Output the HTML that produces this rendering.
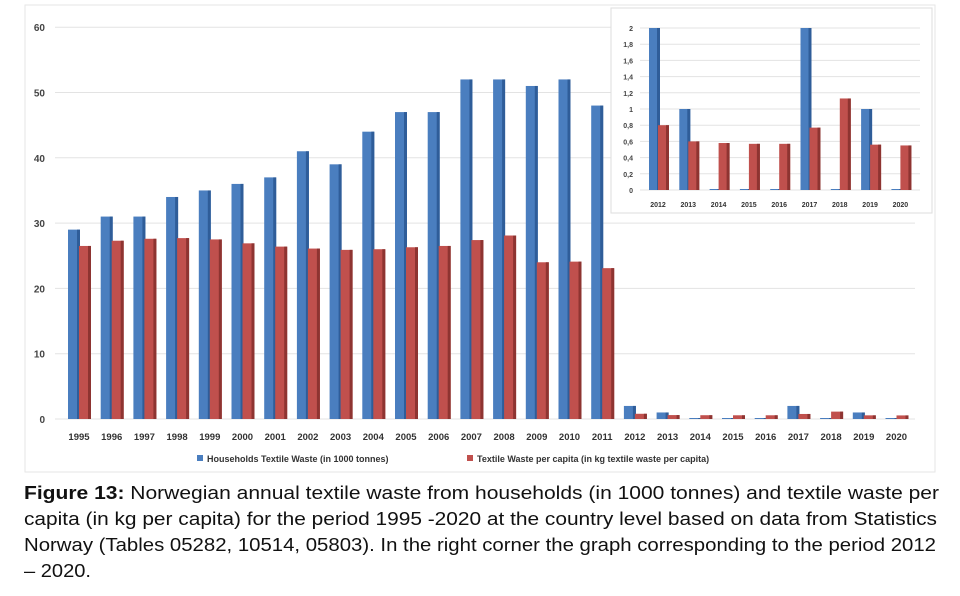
<!DOCTYPE html><html><head><meta charset="utf-8"><style>
body{margin:0;background:#fff;width:960px;height:596px;overflow:hidden;font-family:"Liberation Sans",sans-serif}
</style></head><body>
<svg width="960" height="596" style="position:absolute;left:0;top:0">
<rect x="25" y="5" width="910" height="467" fill="none" stroke="#e6e6e6"/>
<g id="g"></g>
<g font-size="18" fill="#111" font-family="Liberation Sans,sans-serif">
<text x="24" y="499" textLength="915" lengthAdjust="spacingAndGlyphs"><tspan font-weight="bold">Figure 13:</tspan> Norwegian annual textile waste from households (in 1000 tonnes) and textile waste per</text>
<text x="24" y="525" textLength="913" lengthAdjust="spacingAndGlyphs">capita (in kg per capita) for the period 1995 -2020 at the country level based on data from Statistics</text>
<text x="24" y="551" textLength="912" lengthAdjust="spacingAndGlyphs">Norway (Tables 05282, 10514, 05803). In the right corner the graph corresponding to the period 2012</text>
<text x="24" y="577" textLength="67" lengthAdjust="spacingAndGlyphs">– 2020.</text>
</g>
</svg>
<script>
var b=[29,31,31,34,35,36,37,41,39,44,47,47,52,52,51,52,48,2,1,0,0,0,2,0,1,0];
var r=[26.5,27.3,27.6,27.7,27.5,26.9,26.4,26.1,25.9,26,26.3,26.5,27.4,28.1,24,24.1,23.1,0.8,0.6,0.58,0.57,0.57,0.77,1.13,0.56,0.55];
var h='';
function bar(x,y0,hh,w,c,d){if(hh<1)hh=1;return '<rect x="'+x+'" y="'+(y0-hh)+'" width="'+w+'" height="'+hh+'" fill="'+c+'"/><rect x="'+(x+w-3)+'" y="'+(y0-hh)+'" width="3" height="'+hh+'" fill="'+d+'"/>';}
for(var v=0;v<=60;v+=10){var y=419-v*6.53;h+='<line x1="55" x2="915" y1="'+y+'" y2="'+y+'" stroke="#e3e3e3"/><text x="45" y="'+(y+4)+'" font-size="10" fill="#444" text-anchor="end" font-weight="bold">'+v+'</text>';}
for(var i=0;i<26;i++){var cx=79+i*32.7;
h+=bar(cx-11,419,b[i]*6.53,12,'#4a7ebf','#2f5d99');
h+=bar(cx,419,r[i]*6.53,12,'#c0504d','#8e3431');
h+='<text x="'+cx+'" y="440" font-size="9.5" fill="#333" text-anchor="middle" font-weight="bold">'+(1995+i)+'</text>';}
h+='<rect x="197" y="455" width="6" height="6" fill="#4a7ebf"/><text x="207" y="462" font-size="9" fill="#333" font-weight="bold">Households Textile Waste (in 1000 tonnes)</text>';
h+='<rect x="467" y="455" width="6" height="6" fill="#c0504d"/><text x="477" y="462" font-size="9" fill="#333" font-weight="bold">Textile Waste per capita (in kg textile waste per capita)</text>';
h+='<rect x="611" y="8" width="321" height="205" fill="#fff" stroke="#ddd"/>';
for(var k=0;k<=10;k++){var v=k*0.2,y=190-k*16.2;h+='<line x1="640" x2="920" y1="'+y+'" y2="'+y+'" stroke="#e3e3e3"/><text x="633" y="'+(y+3)+'" font-size="7" fill="#444" text-anchor="end" font-weight="bold">'+(k==0?'0':(k%5==0?v.toFixed(0):v.toFixed(1).replace('.',',')))+'</text>';}
for(var j=0;j<9;j++){var cx=658+j*30.3;
h+=bar(cx-9,190,b[17+j]*81,11,'#4a7ebf','#2f5d99');
h+=bar(cx,190,r[17+j]*81,11,'#c0504d','#8e3431');
h+='<text x="'+cx+'" y="207" font-size="7" fill="#333" text-anchor="middle" font-weight="bold">'+(2012+j)+'</text>';}
document.getElementById('g').innerHTML=h;
</script>
</body></html>
